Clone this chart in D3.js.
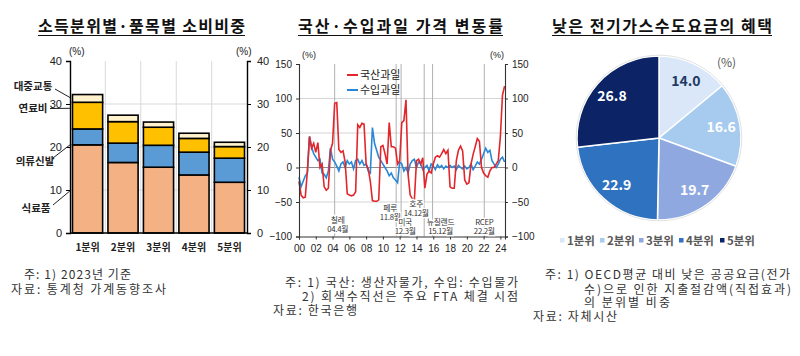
<!DOCTYPE html>
<html><head><meta charset="utf-8">
<script src="https://cdn.jsdelivr.net/npm/d3@7/dist/d3.min.js"></script>
<style>
body{margin:0;background:#fff;}
svg{display:block;}
text{font-family:"Noto Sans CJK KR","Noto Sans",sans-serif;}
.num{font-family:"Liberation Sans Narrow","Liberation Sans",Arial,sans-serif;}
</style></head>
<body><svg id="c" width="800" height="356"></svg>
<script>
// ---------- Data: left chart ----------
const quintiles = ["1분위","2분위","3분위","4분위","5분위"];
const food      = [20.5, 16.4, 15.3, 13.5, 11.8];
const clothing  = [3.7, 4.5, 5.1, 5.3, 5.6];
const fuel      = [6.2, 5.0, 4.2, 3.2, 2.7];
const transport = [1.8, 1.5, 1.2, 1.2, 1.0];
const layerNames = ["식료품","의류신발","연료비","대중교통"];
const leftTicks = [0,10,20,30,40];

// ---------- Data: middle chart (quarterly, 2000Q1 ~ 2024) ----------
const startYear = 2000;
const domesticFruit = [-20,-40,-44,-43, -5,45,28,35, 22,36,0,5, -28,-33,-30,25,
  35,93,94,26, 22,24,8,-38, -40,-41,-40,-35, 62,58,64,63, 5,-2,-20,-48, -49,-49,-47,30,
  32,20,5,65, 30,30,28,5, 10,65,68,98, -10,-40,-45,-47, 10,12,5,14, -30,-10,-5,-8,
  5,15,17,15, 20,26,20,25, -28,-30,-30,10, 25,31,24,-18, -24,-22,5,19,
  30,42,38,0, -8,-12,-14,-5, 0,0,5,10, 45,105,118];
const importFruit = [-14,-28,-20,-12, -8,45,30,20, 15,10,12,-8, -10,-15,-5,28,
  12,8,2,-5, 5,8,0,10, 5,8,-2,10, 12,5,10,3, 5,-5,-8,58, 35,25,15,10,
  5,0,-5,-12, -8,-15,-18,-22, 8,5,-5,0, -8,5,10,12, 0,8,5,-3, 0,3,-5,5,
  2,-3,4,0, 3,-2,2,0, 3,0,2,-3, 3,0,-2,2, -2,0,5,-3,
  2,8,5,12, 20,28,22,25, 10,5,0,5, 12,15,8];
const midYTicks = [-100,-50,0,50,100,150];
const midXTicks = d3.range(2000, 2025, 2);
const ftaNames = ["칠레","페루","미국","호주","뉴질랜드","RCEP"];
const ftaDateLabels = ["04.4월","11.8월","12.3월","14.12월","15.12월","22.2월"];
const ftaDates = [2004.25, 2011.58, 2012.17, 2014.92, 2015.92, 2022.08];
const seriesNames = ["국산과일","수입과일"];

// ---------- Data: right chart ----------
const pieLabels = ["1분위","2분위","3분위","4분위","5분위"];
const pieValues = [14.0, 16.6, 19.7, 22.9, 26.8];

// ---------- Styles ----------
const layerColors = ["#F4B183","#5B9BD5","#FFC000","#FFF2CC"];
const pieColors = ["#D9E7F8","#A6CBEF","#8FA9E0","#2F72BF","#0C2466"];
const pieTextColors = ["#1F3864","#fff","#fff","#fff","#fff"];
const redC = "#E2262B", blueC = "#2A87D6";

const svg = d3.select("#c");

function title(cx, txt, len){
  svg.append("text").attr("x",cx).attr("y",32).attr("text-anchor","middle")
    .attr("font-size",16).attr("font-weight",700).attr("fill","#111")
    .attr("textLength",len).attr("lengthAdjust","spacing").text(txt);
  svg.append("line").attr("x1",cx-len/2).attr("x2",cx+len/2).attr("y1",35.5).attr("y2",35.5)
    .attr("stroke","#111").attr("stroke-width",1.1);
}
function note(x, y, len, txt){
  svg.append("text").attr("x",x).attr("y",y).attr("font-size",12).attr("fill","#333")
    .attr("textLength",len).attr("lengthAdjust","spacing").text(txt);
}
title(141.5, "소득분위별·품목별 소비비중", 207);
title(400.5, "국산·수입과일 가격 변동률", 205);
title(662, "낮은 전기가스수도요금의 혜택", 220);

// =========== LEFT CHART ===========
{
  const g = svg.append("g");
  const x = d3.scaleBand().domain(quintiles).range([70,247]).paddingInner(0.15).paddingOuter(0.07);
  const y = d3.scaleLinear().domain([0,40]).range([233,61]);
  g.selectAll(".hg").data([10,20,30]).join("line")
    .attr("x1",70).attr("x2",247).attr("y1",d=>y(d)).attr("y2",d=>y(d))
    .attr("stroke","#d9d9d9").attr("stroke-width",1);
  const step = x.step();
  g.selectAll(".vg").data(quintiles.slice(1)).join("line")
    .attr("x1",d=>x(d)-step*0.075).attr("x2",d=>x(d)-step*0.075).attr("y1",y(40)).attr("y2",y(0))
    .attr("stroke","#d9d9d9").attr("stroke-width",1);
  const rows = quintiles.map((q,i)=>({q, 식료품:food[i], 의류신발:clothing[i], 연료비:fuel[i], 대중교통:transport[i]}));
  const stack = d3.stack().keys(layerNames)(rows);
  stack.forEach((layer,li)=>{
    g.selectAll(null).data(layer).join("rect")
      .attr("x",d=>x(d.data.q)).attr("width",x.bandwidth())
      .attr("y",d=>y(d[1])).attr("height",d=>y(d[0])-y(d[1]))
      .attr("fill",layerColors[li]).attr("stroke","#000").attr("stroke-width",1.6);
  });
  const la = g.append("g").attr("transform","translate(70,0)")
    .call(d3.axisLeft(y).tickValues(leftTicks).tickSize(4).tickPadding(4));
  const ra = g.append("g").attr("transform","translate(247,0)")
    .call(d3.axisRight(y).tickValues(leftTicks).tickSize(4).tickPadding(6));
  [la,ra].forEach(a=>{
    a.select(".domain").attr("stroke","#000").attr("stroke-width",1.4);
    a.selectAll(".tick line").attr("stroke","#000");
    a.selectAll("text").attr("class","num").attr("font-size",11).attr("fill","#222");
  });
  g.append("line").attr("x1",70).attr("x2",247).attr("y1",y(0)).attr("y2",y(0)).attr("stroke","#000").attr("stroke-width",1.4);
  g.selectAll(".xl").data(quintiles).join("text")
    .attr("x",d=>x(d)+x.bandwidth()/2).attr("y",251).attr("text-anchor","middle")
    .attr("font-size",10).attr("font-weight",700).attr("fill","#222").text(d=>d);
  g.append("text").attr("class","num").attr("x",69).attr("y",55).attr("font-size",10).attr("fill","#222").text("(%)");
  g.append("text").attr("class","num").attr("x",236).attr("y",55).attr("font-size",10).attr("fill","#222").text("(%)");
  const leaders = [
    {t:layerNames[3], tx:33, ty:90, x1:55, y1:89, v:31.5},
    {t:layerNames[2], tx:33, ty:112, x1:50, y1:108.5, v:29},
    {t:layerNames[1], tx:35, ty:165, x1:53, y1:158, v:20.5},
    {t:layerNames[0], tx:36, ty:212, x1:53, y1:205, v:9.8}
  ];
  leaders.forEach(l=>{
    g.append("text").attr("x",l.tx).attr("y",l.ty).attr("text-anchor","middle")
      .attr("font-size",10.5).attr("font-weight",700).attr("fill","#222").text(l.t);
    g.append("line").attr("x1",l.x1).attr("y1",l.y1).attr("x2",70).attr("y2",y(l.v))
      .attr("stroke","#222").attr("stroke-width",1);
  });
  note(24, 279, 107, "주: 1) 2023년 기준");
  note(11, 294, 155, "자료: 통계청 가계동향조사");
}

// =========== MIDDLE CHART ===========
{
  const g = svg.append("g");
  const x = d3.scaleLinear().domain([2000,2024.55]).range([299,505]);
  const y = d3.scaleLinear().domain([-100,150]).range([236.5,64]);
  g.selectAll(".hg").data([100,50,-50]).join("line")
    .attr("x1",299).attr("x2",505).attr("y1",d=>y(d)).attr("y2",d=>y(d))
    .attr("stroke","#d4d4d4");
  g.append("line").attr("x1",299).attr("x2",505).attr("y1",y(0)).attr("y2",y(0)).attr("stroke","#8c8c8c").attr("stroke-width",1.2);
  g.selectAll(".fta").data(ftaDates).join("line")
    .attr("x1",d=>x(d)).attr("x2",d=>x(d)).attr("y1",y(150)).attr("y2",y(-100))
    .attr("stroke","#b0b0b0").attr("stroke-width",1);
  const tOf = i => startYear + i*0.25;
  const line = d3.line().x((d,i)=>x(tOf(i))).y(d=>y(d));
  g.append("path").datum(importFruit).attr("d",line).attr("fill","none").attr("stroke",blueC).attr("stroke-width",1.6);
  g.append("path").datum(domesticFruit).attr("d",line).attr("fill","none").attr("stroke",redC).attr("stroke-width",1.6);
  const la = g.append("g").attr("transform","translate(299,0)").call(d3.axisLeft(y).tickValues(midYTicks).tickSize(3).tickPadding(4));
  const ra = g.append("g").attr("transform","translate(505,0)").call(d3.axisRight(y).tickValues(midYTicks).tickSize(3).tickPadding(4));
  const ba = g.append("g").attr("transform",`translate(0,${y(-100)})`).call(d3.axisBottom(x).tickValues(midXTicks).tickSize(3).tickPadding(5)
      .tickFormat(d=>String(d%100).padStart(2,"0")));
  [la,ra,ba].forEach(a=>{
    a.select(".domain").attr("stroke","#333").attr("stroke-width",1.1);
    a.selectAll(".tick line").attr("stroke","#333");
    a.selectAll("text").attr("class","num").attr("font-size",10).attr("fill","#222");
  });
  g.append("text").attr("class","num").attr("x",302).attr("y",58).attr("font-size",9).attr("fill","#222").text("(%)");
  g.append("text").attr("class","num").attr("x",490).attr("y",58).attr("font-size",9).attr("fill","#222").text("(%)");
  [[redC,75],[blueC,90]].forEach((c,i)=>{
    g.append("line").attr("x1",347).attr("x2",358).attr("y1",c[1]).attr("y2",c[1]).attr("stroke",c[0]).attr("stroke-width",2);
    g.append("text").attr("x",360).attr("y",c[1]+4).attr("font-size",11).attr("fill","#222").text(seriesNames[i]);
  });
  const fLayout = [{dx:3,y:220},{dx:-6,y:208},{dx:4,y:222},{dx:-8,y:204},{dx:8,y:222},{dx:0,y:222}];
  ftaDates.forEach((d,i)=>{
    const cx = x(d)+fLayout[i].dx;
    [ftaNames[i], ftaDateLabels[i]].forEach((t,j)=>{
      g.append("text").attr("x",cx).attr("y",fLayout[i].y+3+j*9).attr("text-anchor","middle")
        .attr("font-size",7.8).attr("fill","#333").attr("stroke","#fff").attr("stroke-width",2.5)
        .attr("paint-order","stroke").attr("letter-spacing",-0.3).text(t);
    });
  });
  note(285, 287, 233, "주: 1) 국산: 생산자물가, 수입: 수입물가");
  note(302, 301, 216, "2) 회색수직선은 주요 FTA 체결 시점");
  note(273, 315, 84, "자료: 한국은행");
}

// =========== RIGHT CHART ===========
{
  const cx = 659, cy = 138, r = 82;
  const g = svg.append("g").attr("transform",`translate(${cx},${cy})`);
  const arcs = d3.pie().sort(null)(pieValues);
  const arc = d3.arc().innerRadius(0).outerRadius(r);
  const lab = d3.arc().innerRadius(63).outerRadius(63);
  g.selectAll("path").data(arcs).join("path").attr("d",arc)
    .attr("fill",(d,i)=>pieColors[i]).attr("stroke","#fff").attr("stroke-width",1.5);
  g.append("circle").attr("r",r+0.8).attr("fill","none").attr("stroke","#e3e3e3").attr("stroke-width",1);
  g.selectAll(".pl").data(arcs).join("text")
    .attr("x",d=>lab.centroid(d)[0]).attr("y",d=>lab.centroid(d)[1]+5)
    .attr("text-anchor","middle").attr("font-family","Liberation Sans, Arial, sans-serif")
    .attr("font-size",14).attr("font-weight",700).attr("fill",(d,i)=>pieTextColors[i])
    .text(d=>d.data.toFixed(1));
  svg.append("text").attr("x",717).attr("y",67).attr("font-family","Liberation Sans, Arial, sans-serif").attr("font-size",12).attr("fill","#555").text("(%)");
  const lx = [562,602,641,681,722];
  pieLabels.forEach((t,i)=>{
    svg.append("rect").attr("x",lx[i]-2).attr("y",238).attr("width",4.5).attr("height",4.5).attr("fill",pieColors[i]);
    svg.append("text").attr("x",lx[i]+5).attr("y",245).attr("font-size",11.5).attr("font-weight",700).attr("fill","#595959").text(t);
  });
  note(545, 279, 245, "주: 1) OECD평균 대비 낮은 공공요금(전가");
  note(584, 293.5, 207, "수)으로 인한 지출절감액(직접효과)");
  note(584, 307, 86, "의 분위별 비중");
  note(533, 321, 84, "자료: 자체시산");
}
</script></body></html>
